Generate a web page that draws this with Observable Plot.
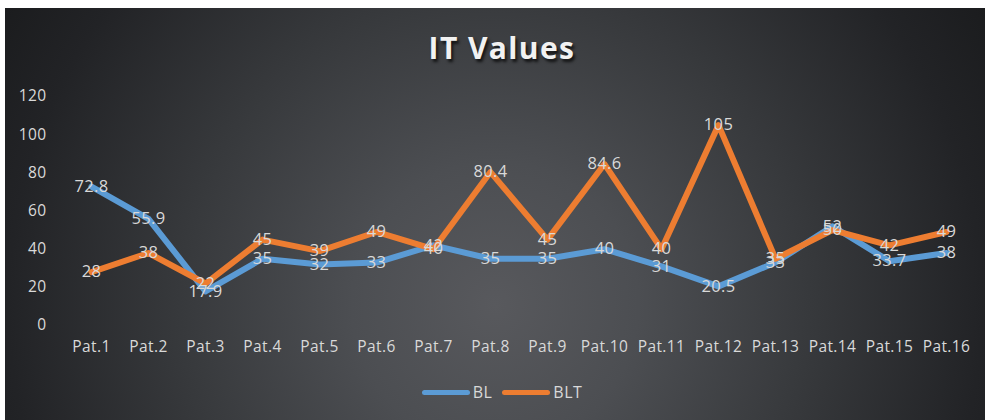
<!DOCTYPE html>
<html>
<head>
<meta charset="utf-8">
<script src="https://cdn.jsdelivr.net/npm/d3@7"></script>
<script src="https://cdn.jsdelivr.net/npm/@observablehq/plot@0.6"></script>
<style>
  html, body { margin: 0; padding: 0; background: #ffffff; }
  #chart {
    position: absolute; left: 5px; top: 8px; width: 980px; height: 412px;
    background: radial-gradient(circle farthest-corner at 50% 72%, #58595d 0%, #4c4e52 25%, #37393c 55%, #222326 85%, #1b1c1e 100%);
    font-family: "Open Sans", sans-serif;
    overflow: hidden;
  }
  #title {
    position: absolute; left: 0; width: 100%; top: 19px; text-align: center; box-sizing: border-box; padding-left: 14px;
    font-family: "Open Sans", sans-serif; font-weight: bold; font-size: 30px; color: #f2f2f2;
    text-shadow: 2px 3px 3px rgba(0,0,0,0.7); letter-spacing: 1.4px;
  }
  #plot { position: absolute; left: 0; top: 72px; }
  #plot svg text { letter-spacing: 0.4px; }
  #legend {
    position: absolute; top: 373px; left: 0; width: 100%; box-sizing: border-box;
    display: flex; justify-content: center; align-items: center;
    font-size: 16px; color: #d9d9d9; letter-spacing: 0.5px; padding-left: 14px;
  }
  .item { display: flex; align-items: center; margin: 0 5px; }
  .swatch { width: 48px; height: 5px; border-radius: 3px; margin-right: 3px; }
</style>
</head>
<body>
<div id="chart">
  <div id="title">IT Values</div>
  <div id="plot"></div>
  <div id="legend"></div>
</div>
<script>
const categories = ["Pat.1","Pat.2","Pat.3","Pat.4","Pat.5","Pat.6","Pat.7","Pat.8","Pat.9","Pat.10","Pat.11","Pat.12","Pat.13","Pat.14","Pat.15","Pat.16"];
const blValues  = [72.8, 55.9, 17.9, 35, 32, 33, 42, 35, 35, 40, 31, 20.5, 33, 52, 33.7, 38];
const bltValues = [28, 38, 22, 45, 39, 49, 40, 80.4, 45, 84.6, 40, 105, 35, 50, 42, 49];
const yTicks = [0, 20, 40, 60, 80, 100, 120];
const seriesNames = ["BL", "BLT"];
const seriesColors = ["#5b9bd5", "#ed7d31"];

const bl = categories.map((c, i) => ({cat: c, value: blValues[i], series: "BL"}));
const blt = categories.map((c, i) => ({cat: c, value: bltValues[i], series: "BLT"}));

const chart = Plot.plot({
  width: 980,
  height: 293,
  marginTop: 16,
  marginBottom: 48,
  marginLeft: 57,
  marginRight: 10,
  style: {background: "transparent", color: "#d9d9d9", fontFamily: "'Open Sans', sans-serif", fontSize: "15.5px", overflow: "visible"},
  x: {type: "point", domain: categories, padding: 0.5, label: null, tickSize: 0, tickPadding: 15},
  y: {domain: [0, 120], ticks: yTicks, label: null, tickSize: 0, tickPadding: 16},
  marks: [
    Plot.ruleY(yTicks, {stroke: "#bfbfbf", strokeOpacity: 0.28, strokeWidth: 1.3, x1: categories[0], x2: categories[categories.length-1], insetLeft: -28, insetRight: -28}),
    Plot.line(bl, {x: "cat", y: "value", stroke: seriesColors[0], strokeWidth: 6, strokeLinejoin: "round", strokeLinecap: "round", style: "filter: drop-shadow(1px 2px 2px rgba(0,0,0,0.55))"}),
    Plot.line(blt, {x: "cat", y: "value", stroke: seriesColors[1], strokeWidth: 6, strokeLinejoin: "round", strokeLinecap: "round", style: "filter: drop-shadow(1px 2px 2px rgba(0,0,0,0.55))"}),
    Plot.text(bl, {x: "cat", y: "value", text: d => String(d.value), fill: "#d9d9d9", fontSize: 16.5}),
    Plot.text(blt, {x: "cat", y: "value", text: d => String(d.value), fill: "#d9d9d9", fontSize: 16.5})
  ]
});
document.getElementById("plot").appendChild(chart);

const legend = document.getElementById("legend");
seriesNames.forEach((n, i) => {
  const item = document.createElement("div");
  item.className = "item";
  const sw = document.createElement("div");
  sw.className = "swatch";
  sw.style.background = seriesColors[i];
  const t = document.createElement("span");
  t.textContent = n;
  item.appendChild(sw); item.appendChild(t);
  legend.appendChild(item);
});
</script>
</body>
</html>
